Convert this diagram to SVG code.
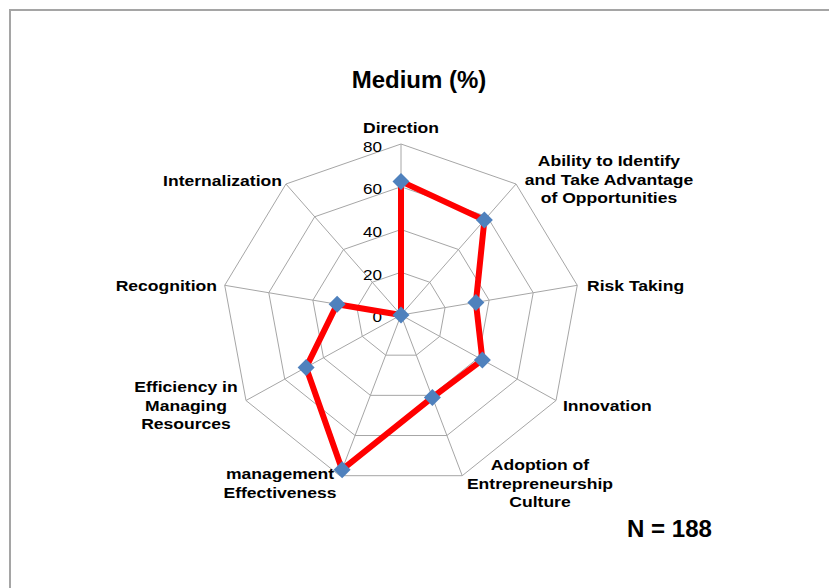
<svg xmlns="http://www.w3.org/2000/svg" width="829" height="588" viewBox="0 0 829 588">
<style>
.grid{fill:none;stroke:#a6a6a6;stroke-width:1}
.lbl{font-family:"Liberation Sans",Arial,sans-serif;font-weight:bold;font-size:15px;fill:#000}
.tick{font-family:"Liberation Sans",Arial,sans-serif;font-size:15px;fill:#000;text-anchor:end}
.mid{text-anchor:middle}
.end{text-anchor:end}
.series{fill:none;stroke:#ff0000;stroke-width:6;stroke-linejoin:round}
.mk{fill:#4f81bd}
</style>
<defs>
<path id="dia" d="M0,-8.5 L8.5,0 L0,8.5 L-8.5,0 Z"/>
</defs>
<rect x="0" y="0" width="829" height="588" fill="#fff"/>
<path d="M10,588 V10 H829" fill="none" stroke="#a5a5a5" stroke-width="2"/>
<text x="419" y="88" font-family="Liberation Sans, Arial, sans-serif" font-weight="bold" font-size="24" text-anchor="middle">Medium (%)</text>
<g id="grid">
<polygon class="grid" points="401,144 516.06,184.01 577.28,285.31 556.01,400.5 462.22,475.69 339.78,475.69 245.99,400.5 224.72,285.31 285.94,184.01"/>
<polygon class="grid" points="401,186.75 487.30,216.76 533.21,292.73 517.26,379.13 446.92,435.52 355.08,435.52 284.74,379.13 268.79,292.73 314.70,216.76"/>
<polygon class="grid" points="401,229.5 458.53,249.5 489.14,300.15 478.51,357.75 431.61,395.35 370.39,395.35 323.49,357.75 312.86,300.15 343.47,249.5"/>
<polygon class="grid" points="401,272.25 429.77,282.25 445.07,307.58 439.75,336.38 416.31,355.17 385.69,355.17 362.25,336.38 356.93,307.58 372.23,282.25"/>
<path class="grid" d="M401,315 L401,144 M401,315 L516.06,184.01 M401,315 L577.28,285.31 M401,315 L556.01,400.5 M401,315 L462.22,475.69 M401,315 L339.78,475.69 M401,315 L245.99,400.5 M401,315 L224.72,285.31 M401,315 L285.94,184.01"/>
</g>
<g id="ticks" transform="scale(1.14,1)">
<text class="tick" x="335.09" y="152">80</text>
<text class="tick" x="335.09" y="194">60</text>
<text class="tick" x="335.09" y="237">40</text>
<text class="tick" x="335.09" y="280">20</text>
<text class="tick" x="335.09" y="322.5">0</text>
</g>
<g id="labels" transform="scale(1.17,1)">
<text class="lbl mid" x="342.74" y="133.3">Direction</text>
<text class="lbl mid" x="520.51" y="166">Ability to Identify</text>
<text class="lbl mid" x="520.51" y="185">and Take Advantage</text>
<text class="lbl mid" x="520.51" y="203.5">of Opportunities</text>
<text class="lbl" x="501.71" y="291">Risk Taking</text>
<text class="lbl" x="481.20" y="411.5">Innovation</text>
<text class="lbl mid" x="461.54" y="470">Adoption of</text>
<text class="lbl mid" x="461.54" y="489">Entrepreneurship</text>
<text class="lbl mid" x="461.54" y="507">Culture</text>
<text class="lbl mid" x="239.32" y="479">management</text>
<text class="lbl mid" x="239.32" y="498">Effectiveness</text>
<text class="lbl mid" x="158.97" y="392">Efficiency in</text>
<text class="lbl mid" x="158.97" y="411">Managing</text>
<text class="lbl mid" x="158.97" y="429.5">Resources</text>
<text class="lbl end" x="185.47" y="291">Recognition</text>
<text class="lbl end" x="241.03" y="185.7">Internalization</text>
</g>
<g id="series">
<polygon class="series" points="401,181.4 484.4,220.0 475.9,302.4 482.4,359.9 432.4,397.4 342.1,469.7 306.1,367.4 337.1,304.2 401,315"/>
<use href="#dia" class="mk" x="401" y="181.4"/>
<use href="#dia" class="mk" x="484.4" y="220.0"/>
<use href="#dia" class="mk" x="475.9" y="302.4"/>
<use href="#dia" class="mk" x="482.4" y="359.9"/>
<use href="#dia" class="mk" x="432.4" y="397.4"/>
<use href="#dia" class="mk" x="342.1" y="469.7"/>
<use href="#dia" class="mk" x="306.1" y="367.4"/>
<use href="#dia" class="mk" x="337.1" y="304.2"/>
<use href="#dia" class="mk" x="401" y="315"/>
</g>
<text x="627" y="537" font-family="Liberation Sans, Arial, sans-serif" font-weight="bold" font-size="23" textLength="85" lengthAdjust="spacingAndGlyphs">N = 188</text>
</svg>
